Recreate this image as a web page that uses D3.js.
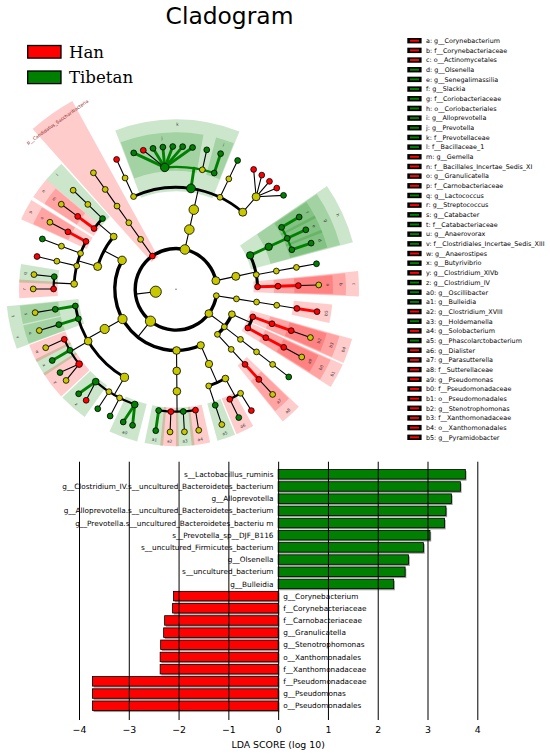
<!DOCTYPE html>
<html>
<head>
<meta charset="utf-8">
<script src="https://cdn.jsdelivr.net/npm/d3@7"></script>
<style>
  body { margin: 0; background: #ffffff; }
  svg { display: block; font-family: "DejaVu Sans", sans-serif; }
</style>
</head>
<body>
<div id="canvas"></div>
<script>
"use strict"

/* ---------- data ---------- */

const groupNames = ["Han", "Tibetan"];
const groupColors = ["#ff0000", "#008000"];

// biomarker legend next to the cladogram
const legendLetters = ["a", "b", "c", "d", "e", "f", "g", "h", "i", "j", "k", "l", "m", "n",
    "o", "p", "q", "r", "s", "t", "u", "v", "w", "x", "y", "z", "a0", "a1", "a2", "a3", "a4",
    "a5", "a6", "a7", "a8", "a9", "b0", "b1", "b2", "b3", "b4", "b5"];
const legendTaxa = ["g__Corynebacterium", "f__Corynebacteriaceae", "o__Actinomycetales",
    "g__Olsenella", "g__Senegalimassilia", "g__Slackia", "f__Coriobacteriaceae",
    "o__Coriobacteriales", "g__Alloprevotella", "g__Prevotella", "f__Prevotellaceae",
    "f__Bacillaceae_1", "g__Gemella", "f__Bacillales_Incertae_Sedis_XI", "g__Granulicatella",
    "f__Carnobacteriaceae", "g__Lactococcus", "g__Streptococcus", "g__Catabacter",
    "f__Catabacteriaceae", "g__Anaerovorax", "f__Clostridiales_Incertae_Sedis_XIII",
    "g__Anaerostipes", "g__Butyrivibrio", "g__Clostridium_XIVb", "g__Clostridium_IV",
    "g__Oscillibacter", "g__Bulleidia", "g__Clostridium_XVIII", "g__Holdemanella",
    "g__Solobacterium", "g__Phascolarctobacterium", "g__Dialister", "g__Parasutterella",
    "f__Sutterellaceae", "g__Pseudomonas", "f__Pseudomonadaceae", "o__Pseudomonadales",
    "g__Stenotrophomonas", "f__Xanthomonadaceae", "o__Xanthomonadales", "g__Pyramidobacter"];
const legendGroups = ["Han", "Han", "Han", "Tibetan", "Tibetan", "Tibetan", "Tibetan",
    "Tibetan", "Tibetan", "Tibetan", "Tibetan", "Tibetan", "Han", "Han", "Han", "Han",
    "Tibetan", "Han", "Tibetan", "Tibetan", "Tibetan", "Tibetan", "Han", "Tibetan", "Han",
    "Tibetan", "Tibetan", "Tibetan", "Han", "Tibetan", "Han", "Tibetan", "Han", "Han", "Han",
    "Han", "Han", "Han", "Han", "Han", "Han", "Han"];

// clade shaded and named in full on the cladogram
const namedClades = ["p__Candidatus_Saccharibacteria"];
const namedCladeGroups = ["Han"];

// taxa of the cladogram, listed clockwise (kingdom Bacteria is added in front)
const lineages = [
    "p__Synergistetes|c__Synergistia|o__Synergistales|f__Synergistaceae|g__Pyramidobacter|s__Pyramidobacter_piscolens",
    "p__Proteobacteria|c__Gammaproteobacteria|o__Xanthomonadales|f__Xanthomonadaceae|g__Stenotrophomonas|s__Stenotrophomonas_maltophilia",
    "p__Proteobacteria|c__Gammaproteobacteria|o__Pseudomonadales|f__Pseudomonadaceae|g__Pseudomonas|s__Pseudomonas_fluorescens",
    "p__Proteobacteria|c__Deltaproteobacteria|o__Desulfovibrionales|f__Desulfovibrionaceae|g__Desulfovibrio|s__Desulfovibrio_piger",
    "p__Proteobacteria|c__Betaproteobacteria|o__Burkholderiales|f__Sutterellaceae|g__Parasutterella|s__Parasutterella_excrementihominis",
    "p__Firmicutes|c__Negativicutes|o__Selenomonadales|f__Veillonellaceae|g__Megasphaera|s__Megasphaera_micronuciformis",
    "p__Firmicutes|c__Negativicutes|o__Selenomonadales|f__Veillonellaceae|g__Dialister|s__Dialister_succinatiphilus",
    "p__Firmicutes|c__Negativicutes|o__Selenomonadales|f__Acidaminococcaceae|g__Phascolarctobacterium|s__Phascolarctobacterium_faecium",
    "p__Firmicutes|c__Erysipelotrichia|o__Erysipelotrichales|f__Erysipelotrichaceae|g__Solobacterium|s__Solobacterium_moorei",
    "p__Firmicutes|c__Erysipelotrichia|o__Erysipelotrichales|f__Erysipelotrichaceae|g__Holdemanella|s__Holdemanella_biformis",
    "p__Firmicutes|c__Erysipelotrichia|o__Erysipelotrichales|f__Erysipelotrichaceae|g__Clostridium_XVIII|s__Clostridium_ramosum",
    "p__Firmicutes|c__Erysipelotrichia|o__Erysipelotrichales|f__Erysipelotrichaceae|g__Bulleidia|s__Bulleidia_sp",
    "p__Firmicutes|c__Clostridia|o__Clostridiales|f__Ruminococcaceae|g__Oscillibacter|s__Oscillibacter_valericigenes",
    "p__Firmicutes|c__Clostridia|o__Clostridiales|f__Ruminococcaceae|g__Oscillibacter|s__uncultured_Oscillibacter_sp",
    "p__Firmicutes|c__Clostridia|o__Clostridiales|f__Ruminococcaceae|g__Ruminococcus|s__Ruminococcus_bromii",
    "p__Firmicutes|c__Clostridia|o__Clostridiales|f__Ruminococcaceae|g__Faecalibacterium|s__Faecalibacterium_prausnitzii",
    "p__Firmicutes|c__Clostridia|o__Clostridiales|f__Ruminococcaceae|g__Clostridium_IV|s__Clostridium_leptum",
    "p__Firmicutes|c__Clostridia|o__Clostridiales|f__Ruminococcaceae|g__Clostridium_IV|s__uncultured_Bacteroidetes_bacterium",
    "p__Firmicutes|c__Clostridia|o__Clostridiales|f__Lachnospiraceae|g__Clostridium_XIVb|s__Clostridium_XIVb_sp",
    "p__Firmicutes|c__Clostridia|o__Clostridiales|f__Lachnospiraceae|g__Clostridium_XIVb|s__uncultured_Firmicutes_bacterium",
    "p__Firmicutes|c__Clostridia|o__Clostridiales|f__Lachnospiraceae|g__Butyrivibrio|s__Butyrivibrio_fibrisolvens",
    "p__Firmicutes|c__Clostridia|o__Clostridiales|f__Lachnospiraceae|g__Anaerostipes|s__Anaerostipes_hadrus",
    "p__Firmicutes|c__Clostridia|o__Clostridiales|f__Clostridiales_Incertae_Sedis_XIII|g__Anaerovorax|s__Anaerovorax_sp",
    "p__Firmicutes|c__Clostridia|o__Clostridiales|f__Catabacteriaceae|g__Catabacter|s__Catabacter_hongkongensis",
    "p__Firmicutes|c__Bacilli|o__Lactobacillales|f__Streptococcaceae|g__Streptococcus|s__Streptococcus_salivarius",
    "p__Firmicutes|c__Bacilli|o__Lactobacillales|f__Streptococcaceae|g__Lactococcus|s__Lactococcus_lactis",
    "p__Firmicutes|c__Bacilli|o__Lactobacillales|f__Enterococcaceae|g__Enterococcus|s__Enterococcus_faecium",
    "p__Firmicutes|c__Bacilli|o__Lactobacillales|f__Lactobacillaceae|g__Lactobacillus|s__Lactobacillus_ruminis",
    "p__Firmicutes|c__Bacilli|o__Lactobacillales|f__Carnobacteriaceae|g__Granulicatella|s__Granulicatella_adiacens",
    "p__Firmicutes|c__Bacilli|o__Bacillales|f__Bacillales_Incertae_Sedis_XI|g__Gemella|s__Gemella_sanguinis",
    "p__Firmicutes|c__Bacilli|o__Bacillales|f__Bacillaceae_1|g__Bacillus|s__Bacillus_sp",
    "p__Candidatus_Saccharibacteria|c__TM7_class|o__TM7_order|f__TM7_family|g__Saccharibacteria_genera_incertae_sedis|s__TM7_sp",
    "p__Bacteroidetes|c__Bacteroidia|o__Bacteroidales|f__Porphyromonadaceae|g__Porphyromonas|s__Porphyromonas_sp",
    "p__Bacteroidetes|c__Bacteroidia|o__Bacteroidales|f__Prevotellaceae|g__Prevotella|s__Prevotella_copri",
    "p__Bacteroidetes|c__Bacteroidia|o__Bacteroidales|f__Prevotellaceae|g__Prevotella|s__Prevotella_melaninogenica",
    "p__Bacteroidetes|c__Bacteroidia|o__Bacteroidales|f__Prevotellaceae|g__Prevotella|s__Prevotella_sp__DJF_B116",
    "p__Bacteroidetes|c__Bacteroidia|o__Bacteroidales|f__Prevotellaceae|g__Prevotella|s__uncultured_Bacteroidetes_bacterium",
    "p__Bacteroidetes|c__Bacteroidia|o__Bacteroidales|f__Prevotellaceae|g__Prevotella|s__Prevotella_stercorea",
    "p__Bacteroidetes|c__Bacteroidia|o__Bacteroidales|f__Prevotellaceae|g__Prevotella|s__uncultured_Prevotella_sp",
    "p__Bacteroidetes|c__Bacteroidia|o__Bacteroidales|f__Prevotellaceae|g__Prevotella|s__Prevotella_sp__BV3C16",
    "p__Bacteroidetes|c__Bacteroidia|o__Bacteroidales|f__Prevotellaceae|g__Paraprevotella|s__uncultured_bacterium",
    "p__Bacteroidetes|c__Bacteroidia|o__Bacteroidales|f__Prevotellaceae|g__Alloprevotella|s__uncultured_Bacteroidetes_bacterium",
    "p__Bacteroidetes|c__Bacteroidia|o__Bacteroidales|f__Rikenellaceae|g__Alistipes|s__Alistipes_putredinis",
    "p__Bacteroidetes|c__Bacteroidia|o__Bacteroidales|f__Bacteroidaceae|g__Bacteroides|s__Bacteroides_fragilis",
    "p__Bacteroidetes|c__Bacteroidia|o__Bacteroidales|f__Bacteroidaceae|g__Bacteroides|s__Bacteroides_vulgatus",
    "p__Bacteroidetes|c__Bacteroidia|o__Bacteroidales|f__Bacteroidaceae|g__Bacteroides|s__Bacteroides_uniformis",
    "p__Bacteroidetes|c__Bacteroidia|o__Bacteroidales|f__Bacteroidaceae|g__Bacteroides|s__Bacteroides_ovatus",
    "p__Bacteroidetes|c__Bacteroidia|o__Bacteroidales|f__Bacteroidaceae|g__Bacteroides|s__Bacteroides_plebeius",
    "p__Actinobacteria|c__Actinobacteria|o__Coriobacteriales|f__Coriobacteriaceae|g__Slackia|s__Slackia_isoflavoniconvertens",
    "p__Actinobacteria|c__Actinobacteria|o__Coriobacteriales|f__Coriobacteriaceae|g__Senegalimassilia|s__Senegalimassilia_anaerobia",
    "p__Actinobacteria|c__Actinobacteria|o__Coriobacteriales|f__Coriobacteriaceae|g__Olsenella|s__Olsenella_sp",
    "p__Actinobacteria|c__Actinobacteria|o__Bifidobacteriales|f__Bifidobacteriaceae|g__Bifidobacterium|s__Bifidobacterium_longum",
    "p__Actinobacteria|c__Actinobacteria|o__Actinomycetales|f__Corynebacteriaceae|g__Corynebacterium|s__Corynebacterium_sp"
];

// coloured species nodes (no letter in the legend)
const markedSpecies = ["s__Pyramidobacter_piscolens", "s__Desulfovibrio_piger",
    "s__Megasphaera_micronuciformis", "s__Dialister_succinatiphilus", "s__Bulleidia_sp",
    "s__Oscillibacter_valericigenes", "s__uncultured_Oscillibacter_sp", "s__Ruminococcus_bromii",
    "s__Faecalibacterium_prausnitzii", "s__Clostridium_leptum",
    "s__uncultured_Bacteroidetes_bacterium", "s__uncultured_Firmicutes_bacterium",
    "s__Butyrivibrio_fibrisolvens", "s__Enterococcus_faecium", "s__Lactobacillus_ruminis",
    "s__Porphyromonas_sp", "s__Prevotella_copri", "s__Prevotella_melaninogenica",
    "s__Prevotella_sp__DJF_B116", "s__Prevotella_stercorea", "s__uncultured_Prevotella_sp",
    "s__Prevotella_sp__BV3C16", "s__uncultured_bacterium", "s__Alistipes_putredinis",
    "s__Bacteroides_fragilis", "s__Bacteroides_vulgatus", "s__Bacteroides_uniformis",
    "s__Bacteroides_ovatus", "s__Bacteroides_plebeius", "s__Slackia_isoflavoniconvertens",
    "s__Senegalimassilia_anaerobia", "s__Olsenella_sp", "s__Bifidobacterium_longum"];
const markedSpeciesGroups = ["Han", "Tibetan", "Han", "Tibetan", "Tibetan", "Tibetan",
    "Tibetan", "Tibetan", "Tibetan", "Han", "Tibetan", "Tibetan", "Tibetan", "Han", "Tibetan",
    "Han", "Tibetan", "Han", "Tibetan", "Tibetan", "Tibetan", "Tibetan", "Tibetan", "Tibetan",
    "Han", "Han", "Han", "Han", "Tibetan", "Tibetan", "Tibetan", "Tibetan", "Tibetan"];

// LDA scores, top to bottom
const ldaTaxa = ["s__Lactobacillus_ruminis",
    "g__Clostridium_IV.s__uncultured_Bacteroidetes_bacterium",
    "g__Alloprevotella",
    "g__Alloprevotella.s__uncultured_Bacteroidetes_bacterium",
    "g__Prevotella.s__uncultured_Bacteroidetes_bacteriu m",
    "s__Prevotella_sp__DJF_B116",
    "s__uncultured_Firmicutes_bacterium",
    "g__Olsenella",
    "s__uncultured_bacterium",
    "g__Bulleidia",
    "g__Corynebacterium",
    "f__Corynebacteriaceae",
    "f__Carnobacteriaceae",
    "g__Granulicatella",
    "g__Stenotrophomonas",
    "o__Xanthomonadales",
    "f__Xanthomonadaceae",
    "f__Pseudomonadaceae",
    "g__Pseudomonas",
    "o__Pseudomonadales"];
const ldaScores = [3.76, 3.66, 3.48, 3.37, 3.34, 3.05, 2.92, 2.62, 2.55, 2.32,
    -2.10, -2.12, -2.28, -2.30, -2.36, -2.37, -2.37, -3.73, -3.73, -3.73];
const ldaTicks = [-4, -3, -2, -1, 0, 1, 2, 3, 4];


/* ---------- drawing ---------- */

let drawing = d3.select("#canvas")
    .append("svg")
    .attr("width", 550)
    .attr("height", 754);

let colorOf = g => groupColors[groupNames.indexOf(g)];

let title = drawing.append("text")
    .attr("x", 229.5)
    .attr("y", 23.5)
    .attr("text-anchor", "middle")
    .attr("font-size", 23.4)
    .attr("fill", "black")
    .text("Cladogram");

// Han / Tibetan legend
let groupLegend = drawing.append("g");
groupNames.forEach((name, i) => {
    groupLegend.append("rect")
        .attr("x", 27.7)
        .attr("y", 45.5 + i * 25.5)
        .attr("width", 33.3)
        .attr("height", 12.6)
        .attr("fill", groupColors[i])
        .attr("stroke", "black")
        .attr("stroke-width", 1.3);
    groupLegend.append("text")
        .attr("x", 69)
        .attr("y", 57.8 + i * 25.5)
        .attr("font-family", "DejaVu Serif")
        .attr("font-size", 16.6)
        .attr("fill", "black")
        .text(name);
});

/* cladogram */
const cx = 176, cy = 289.3, levelStep = 20.4;

let rows = [{id: "root", parentId: null, name: ""}];
let seen = new Set(["root"]);
lineages.forEach(line => {
    let parts = ["k__Bacteria"].concat(line.split("|"));
    parts.forEach((name, i) => {
        let id = parts.slice(0, i + 1).join("|");
        if (seen.has(id)) return;
        seen.add(id);
        rows.push({id: id, parentId: i === 0 ? "root" : parts.slice(0, i).join("|"), name: name});
    });
});
let tree = d3.stratify()(rows);

let markerGroup = new Map();
legendTaxa.forEach((t, i) => markerGroup.set(t, legendGroups[i]));
namedClades.forEach((t, i) => markerGroup.set(t, namedCladeGroups[i]));
markedSpecies.forEach((t, i) => markerGroup.set(t, markedSpeciesGroups[i]));
tree.each(d => { d.group = markerGroup.get(d.data.name) || null; });

// wider gaps between leaves that are only distantly related
const sepByLevel = [1, 1.45, 1.85, 2.15, 2.4, 2.7];
d3.cluster()
    .size([360, 1])
    .separation((a, b) => {
        let k = 0, pa = a, pb = b;
        while (pa !== pb) { pa = pa.parent; pb = pb.parent; k++; }
        return sepByLevel[Math.min(k, sepByLevel.length) - 1];
    })(tree);

let rotation = 9 - tree.leaves()[0].x;
tree.each(d => {
    d.angle = (d.x + rotation) * Math.PI / 180;
    d.radius = d.depth * levelStep;
});
let px = (a, r) => cx + r * Math.cos(a);
let py = (a, r) => cy + r * Math.sin(a);

// shaded sectors behind biomarker clades
let wedgeLayer = drawing.append("g").attr("transform", `translate(${cx},${cy})`);
let labelLayer = drawing.append("g");
let clades = tree.descendants().filter(d => legendTaxa.includes(d.data.name) || namedClades.includes(d.data.name));
clades.sort((a, b) => a.depth - b.depth);
clades.forEach(d => {
    let leaves = d.leaves();
    let half = (d.depth <= 2 ? 6.5 : 3.4 + 0.3 * (6 - d.depth)) * Math.PI / 180;
    let a0 = d3.min(leaves, l => l.angle) - half;
    let a1 = d3.max(leaves, l => l.angle) + half;
    let outer = 157 + 13 * (6 - d.depth) + (d.depth <= 2 ? 6 : 0);
    wedgeLayer.append("path")
        .attr("d", d3.arc()({innerRadius: d.radius - 4, outerRadius: outer,
            startAngle: a0 + Math.PI / 2, endAngle: a1 + Math.PI / 2}))
        .attr("fill", colorOf(d.group))
        .attr("fill-opacity", 0.2);

    let mid = (a0 + a1) / 2;
    let deg = mid * 180 / Math.PI;
    let named = namedClades.includes(d.data.name);
    let lr = named ? outer - 10 : outer - 5;
    let rot = (deg > 0 && deg < 180) ? deg - 90 : deg + 90;
    labelLayer.append("text")
        .attr("transform", `translate(${px(mid, lr)},${py(mid, lr)}) rotate(${rot})`)
        .attr("text-anchor", "middle")
        .attr("dy", "0.35em")
        .attr("font-size", named ? 4.6 : 4.2)
        .attr("fill", named ? "#8b1a1a" : "#333333")
        .text(named ? d.data.name : legendLetters[legendTaxa.indexOf(d.data.name)]);
});

// branches
const arcWidth = {2: 3.4, 3: 3.4, 4: 3.0, 5: 2.8, 6: 2.2};
let edges = drawing.append("g").attr("fill", "none").attr("stroke-linecap", "round");
tree.descendants().filter(d => d.children && d.depth >= 1).forEach(p => {
    let kids = p.children;
    let rc = (p.depth + 1) * levelStep;
    if (kids.length === 1 || p.depth + 1 === 7) {
        kids.forEach(c => {
            let same = p.group && p.group === c.group;
            edges.append("line")
                .attr("x1", px(p.angle, p.radius)).attr("y1", py(p.angle, p.radius))
                .attr("x2", px(c.angle, c.radius)).attr("y2", py(c.angle, c.radius))
                .attr("stroke", same ? colorOf(p.group) : "black")
                .attr("stroke-width", same ? 2.9 : 1.1);
        });
    } else {
        let col = p.group ? colorOf(p.group) : "black";
        edges.append("line")
            .attr("x1", px(p.angle, p.radius)).attr("y1", py(p.angle, p.radius))
            .attr("x2", px(p.angle, rc)).attr("y2", py(p.angle, rc))
            .attr("stroke", col)
            .attr("stroke-width", p.group ? 2.9 : 1.1);
        let path = d3.path();
        path.arc(cx, cy, rc, d3.min(kids, k => k.angle), d3.max(kids, k => k.angle));
        edges.append("path")
            .attr("d", path.toString())
            .attr("stroke", col)
            .attr("stroke-width", arcWidth[p.depth + 1]);
    }
});

// nodes
let nodeSize = d3.scaleLog().domain([1, tree.leaves().length]).range([2.9, 5.6]);
let nodes = drawing.append("g");
nodes.append("circle")
    .attr("cx", cx).attr("cy", cy).attr("r", 0.8)
    .attr("fill", "#777777");
tree.descendants().filter(d => d.depth >= 1).forEach(d => {
    nodes.append("circle")
        .attr("cx", px(d.angle, d.radius))
        .attr("cy", py(d.angle, d.radius))
        .attr("r", nodeSize(d.leaves().length))
        .attr("fill", d.group ? colorOf(d.group) : "#c8c800")
        .attr("stroke", "black")
        .attr("stroke-width", 0.8);
});
labelLayer.raise();

// biomarker legend
let legendY = d3.scalePoint().domain(legendLetters).range([40.7, 437.3]);
let bioLegend = drawing.append("g");
legendLetters.forEach((letter, i) => {
    let y = legendY(letter);
    bioLegend.append("rect")
        .attr("x", 407.3).attr("y", y - 2.7)
        .attr("width", 14.3).attr("height", 5.4)
        .attr("fill", "black");
    bioLegend.append("rect")
        .attr("x", 410).attr("y", y - 1)
        .attr("width", 9).attr("height", 2)
        .attr("fill", colorOf(legendGroups[i]));
    bioLegend.append("text")
        .attr("x", 426).attr("y", y + 2.3)
        .attr("font-size", 6.4)
        .attr("fill", "black")
        .text(letter + ": " + legendTaxa[i]);
});

/* LDA bar chart */
let xLda = d3.scaleLinear().domain([-4, 4]).range([79, 477.3]);
let yLda = d3.scaleBand().domain(ldaTaxa).range([468.2, 711.8]).paddingInner(0.22).paddingOuter(0.11);

let bars = drawing.append("g");
ldaTaxa.forEach((name, i) => {
    let v = ldaScores[i];
    let x0 = Math.min(xLda(0), xLda(v));
    let w = Math.abs(xLda(v) - xLda(0));
    bars.append("rect")
        .attr("x", x0 + 1.2).attr("y", yLda(name) + 1.6)
        .attr("width", w).attr("height", yLda.bandwidth())
        .attr("fill", "#9a9a9a");
    bars.append("rect")
        .attr("x", x0).attr("y", yLda(name))
        .attr("width", w).attr("height", yLda.bandwidth())
        .attr("fill", v > 0 ? groupColors[1] : groupColors[0])
        .attr("stroke", "black")
        .attr("stroke-width", 0.8);
});

let ldaAxis = drawing.append("g")
    .attr("transform", "translate(0,720)")
    .call(d3.axisBottom(xLda).tickValues(ldaTicks).tickFormat(d3.format("d"))
        .tickSize(-(720 - 461.7)).tickPadding(6.5));
ldaAxis.select(".domain").remove();
ldaAxis.selectAll(".tick line").attr("stroke", "black").attr("stroke-width", 1);
ldaAxis.selectAll(".tick text")
    .attr("font-family", "DejaVu Sans")
    .attr("font-size", 9.4)
    .attr("fill", "black");

let barLabels = drawing.append("g").attr("font-size", 7.3).attr("fill", "black");
ldaTaxa.forEach((name, i) => {
    let v = ldaScores[i];
    barLabels.append("text")
        .attr("x", v > 0 ? xLda(0) - 4.7 : xLda(0) + 5)
        .attr("y", yLda(name) + yLda.bandwidth() / 2 + 2.6)
        .attr("text-anchor", v > 0 ? "end" : "start")
        .text(name);
});

let axisTitle = drawing.append("text")
    .attr("x", xLda(0))
    .attr("y", 747.6)
    .attr("text-anchor", "middle")
    .attr("font-size", 9.4)
    .attr("fill", "black")
    .text("LDA SCORE (log 10)");
</script>
</body>
</html>
